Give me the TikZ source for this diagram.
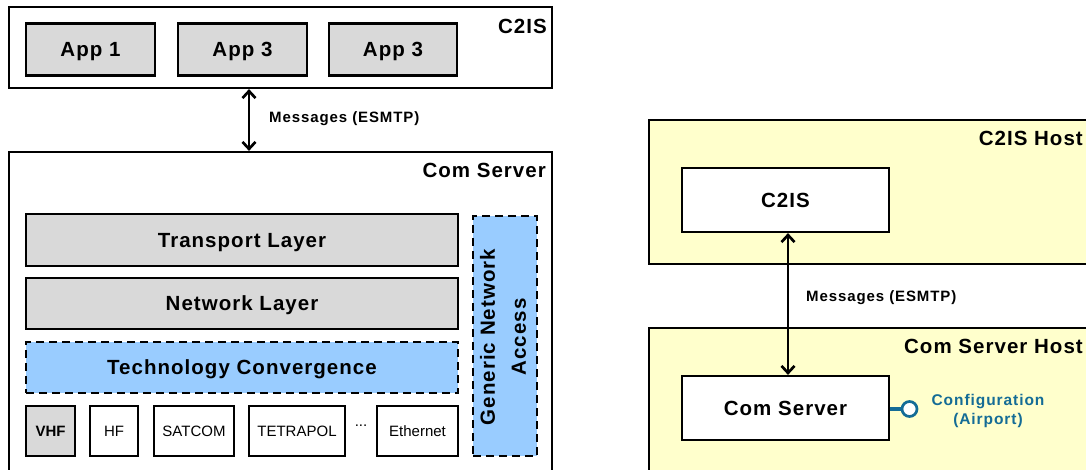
\documentclass[tikz,border=0pt]{standalone}
\usepackage{fontspec}
\setmainfont{Liberation Sans}
\newfontfamily\trk{Liberation Sans}[LetterSpace=5]
\newfontfamily\trkw{Liberation Sans}[LetterSpace=6]
\usetikzlibrary{arrows.meta}
\definecolor{boxgray}{HTML}{D9D9D9}
\definecolor{boxblue}{HTML}{99CCFF}
\definecolor{hostyellow}{HTML}{FFFFCC}
\definecolor{cfgteal}{RGB}{20,108,150}
\tikzset{
  capcenter/.style={text height=14.7pt, text depth=0pt},
  box/.style={draw=black, line width=2.2pt, inner sep=0pt, align=center, capcenter, font=\trk\bfseries\fontsize{20.5}{24}\selectfont},
  graybox/.style={box, fill=boxgray},
  whitebox/.style={box, fill=white},
  bluebox/.style={box, fill=boxblue, dash pattern=on 8pt off 5pt},
  hostbox/.style={box, fill=hostyellow},
  techbox/.style={draw=black, line width=2.2pt, inner sep=0pt, fill=white, font=\fontsize{15}{18}\selectfont},
  title/.style={inner sep=0pt, capcenter, font=\trk\bfseries\fontsize{20.5}{24}\selectfont},
  vtitle/.style={inner sep=0pt, rotate=90, align=center, font=\trk\bfseries\fontsize{20.5}{31}\selectfont},
  msg/.style={inner sep=0pt, font=\trkw\bfseries\fontsize{15}{18}\selectfont},
  arr/.style={line width=2.7pt, {Straight Barb[length=7pt,width=13pt]}-{Straight Barb[length=7pt,width=13pt]}},
}
\begin{document}
\begin{tikzpicture}[x=1pt,y=-1pt]
\clip (0,0) rectangle (1086,470);
\fill[white] (0,0) rectangle (1086,470);
% ---------- left: layered view ----------
\node[whitebox, minimum width=543pt, minimum height=81pt] (c2is) at (280.5,47.5) {};
\node[title, anchor=east] (c2islbl) at (547,26) {C2IS};
\node[graybox, minimum width=129pt, minimum height=52pt] (app1) at (90.5,49.5) {App 1};
\node[graybox, minimum width=129pt, minimum height=52pt] (app2) at (242.5,49.5) {App 3};
\node[graybox, minimum width=128pt, minimum height=52pt] (app3) at (393,49.5) {App 3};

\node[whitebox, minimum width=543pt, minimum height=330pt] (cs) at (280.5,317) {};
\node[title, anchor=east] (cslbl) at (546,170) {Com Server};
\node[graybox, minimum width=432pt, minimum height=52pt] (transport) at (242,240) {Transport Layer};
\node[graybox, minimum width=432pt, minimum height=51pt] (network) at (242,303.5) {Network Layer};
\node[bluebox, minimum width=432pt, minimum height=51pt] (tech) at (242,367.5) {Technology Convergence};
\node[bluebox, minimum width=64pt, minimum height=240pt] (gna) at (505,336) {};
\node[vtitle] (gnalbl) at (503,337) {Generic Network\\Access};

\node[techbox, fill=boxgray, font=\bfseries\fontsize{15}{18}\selectfont, minimum width=49pt, minimum height=50pt] (vhf) at (50.5,431) {VHF};
\node[techbox, minimum width=48pt, minimum height=50pt] (hf) at (114,431) {HF};
\node[techbox, minimum width=80pt, minimum height=50pt] (satcom) at (194,431) {SATCOM};
\node[techbox, minimum width=96pt, minimum height=50pt] (tetra) at (297,431) {TETRAPOL};
\node[inner sep=0pt, font=\fontsize{15}{18}\selectfont] (dots) at (361,426) {...};
\node[techbox, minimum width=81pt, minimum height=50pt] (eth) at (417.5,431) {Ethernet};

\coordinate (lx) at (249,0);
\draw[arr] (c2is.south -| lx) -- (cs.north -| lx);
\node[msg, anchor=west] (msg1) at (269,119) {Messages (ESMTP)};

% ---------- right: deployment view ----------
\node[hostbox, minimum width=446pt, minimum height=144pt] (host1) at (872,192) {};
\node[title, anchor=east] (host1lbl) at (1083,138) {C2IS Host};
\node[whitebox, minimum width=207pt, minimum height=64pt] (c2is2) at (785.5,200) {C2IS};

\node[hostbox, minimum width=446pt, minimum height=160pt] (host2) at (872,408) {};
\node[title, anchor=east] (host2lbl) at (1083,346) {Com Server Host};
\node[whitebox, minimum width=207pt, minimum height=64pt] (cs2) at (785.5,408) {Com Server};

\coordinate (rx) at (788,0);
\draw[arr] (c2is2.south -| rx) -- (cs2.north -| rx);
\node[msg, anchor=west] (msg2) at (806,298) {Messages (ESMTP)};

\node[circle, draw=cfgteal, line width=2.7pt, fill=white, minimum size=15pt, inner sep=0pt] (cfg) at (909.5,409) {};
\draw[cfgteal, line width=3.2pt] (cs2.east |- cfg) -- (cfg.west);
\node[inner sep=0pt, align=center, text=cfgteal, font=\trkw\bfseries\fontsize{15.5}{19}\selectfont] (cfglbl) at (988,411) {Configuration\\(Airport)};
\end{tikzpicture}
\end{document}
